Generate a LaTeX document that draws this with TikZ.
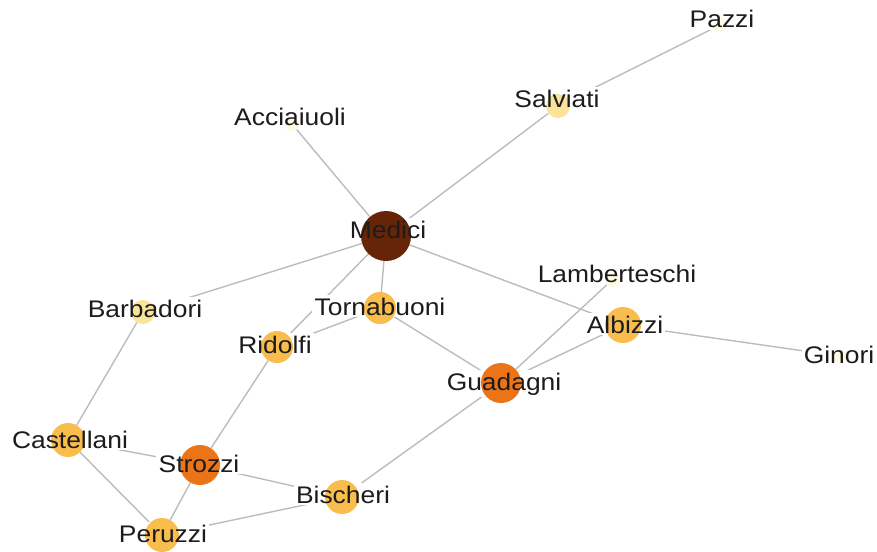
\documentclass[tikz,border=0pt]{standalone}
\usepackage{fontspec}
\setmainfont{Liberation Sans}[FakeStretch=1.1]

% drawing order: ties at the back, white label boxes, then families and names
\pgfdeclarelayer{ties}
\pgfdeclarelayer{halo}
\pgfsetlayers{ties,halo,main}

\definecolor{tiegray}{RGB}{188,188,188}
\definecolor{ink}{RGB}{28,28,28}
\definecolor{degA}{HTML}{FDFBE2}
\definecolor{degB}{HTML}{FBE49A}
\definecolor{degC}{HTML}{F8BD4C}
\definecolor{degD}{HTML}{EC7418}
\definecolor{degE}{HTML}{662506}

\tikzset{
  fam/.style 2 args={circle, inner sep=0pt, minimum size=#1pt, fill=#2, draw=none},
  famname/.style={anchor=base, inner sep=2pt, text=ink,
                  font=\fontsize{24}{24}\selectfont},
  tie/.style={draw=tiegray, line width=1.4pt},
}

\begin{document}
\begin{tikzpicture}[x=1pt, y=-1pt]
  \useasboundingbox (0,0) rectangle (877,551);

  % families, sized and shaded by centrality
  \node[fam={50}{degE}] (medici)       at (386,236) {};
  \node[fam={40}{degD}] (strozzi)      at (200,465) {};
  \node[fam={40}{degD}] (guadagni)     at (501,383) {};
  \node[fam={34}{degC}] (castellani)   at (68,440)  {};
  \node[fam={34}{degC}] (peruzzi)      at (162,535) {};
  \node[fam={34}{degC}] (bischeri)     at (342,497) {};
  \node[fam={36}{degC}] (albizzi)      at (623,325) {};
  \node[fam={32}{degC}] (tornabuoni)   at (380,308) {};
  \node[fam={32}{degC}] (ridolfi)      at (277,347) {};
  \node[fam={24}{degB}] (barbadori)    at (143,312) {};
  \node[fam={24}{degB}] (salviati)     at (558,106) {};
  \node[fam={14}{degA}] (acciaiuoli)   at (292,124) {};
  \node[fam={14}{degA}] (pazzi)        at (720,25)  {};
  \node[fam={14}{degA}] (lamberteschi) at (612,280) {};
  \node[fam={14}{degA}] (ginori)       at (839,356) {};

  % family names
  \node[famname] (medici-n)       at (388,238) {Medici};
  \node[famname] (strozzi-n)      at (199,472) {Strozzi};
  \node[famname] (guadagni-n)     at (504,390) {Guadagni};
  \node[famname] (castellani-n)   at (70,448)  {Castellani};
  \node[famname] (peruzzi-n)      at (163,542) {Peruzzi};
  \node[famname] (bischeri-n)     at (343,503) {Bischeri};
  \node[famname] (albizzi-n)      at (625,333) {Albizzi};
  \node[famname] (tornabuoni-n)   at (380,315) {Tornabuoni};
  \node[famname] (ridolfi-n)      at (275,353) {Ridolfi};
  \node[famname] (barbadori-n)    at (145,317) {Barbadori};
  \node[famname] (salviati-n)     at (557,107) {Salviati};
  \node[famname] (acciaiuoli-n)   at (290,125) {Acciaiuoli};
  \node[famname] (pazzi-n)        at (722,28)  {Pazzi};
  \node[famname] (lamberteschi-n) at (617,282) {Lamberteschi};
  \node[famname] (ginori-n)       at (839,363) {Ginori};

  % white boxes behind the names hide the ties that run under them
  \begin{pgfonlayer}{halo}
    \foreach \f in {medici,strozzi,guadagni,castellani,peruzzi,bischeri,
                    albizzi,tornabuoni,ridolfi,barbadori,salviati,
                    acciaiuoli,pazzi,lamberteschi,ginori}
      \fill[white] (\f-n.south west) rectangle (\f-n.north east);
  \end{pgfonlayer}

  % marriage ties
  \begin{pgfonlayer}{ties}
    \draw[tie] (acciaiuoli) -- (medici);
    \draw[tie] (albizzi) -- (ginori);
    \draw[tie] (albizzi) -- (guadagni);
    \draw[tie] (albizzi) -- (medici);
    \draw[tie] (barbadori) -- (castellani);
    \draw[tie] (barbadori) -- (medici);
    \draw[tie] (bischeri) -- (guadagni);
    \draw[tie] (bischeri) -- (peruzzi);
    \draw[tie] (bischeri) -- (strozzi);
    \draw[tie] (castellani) -- (peruzzi);
    \draw[tie] (castellani) -- (strozzi);
    \draw[tie] (guadagni) -- (lamberteschi);
    \draw[tie] (guadagni) -- (tornabuoni);
    \draw[tie] (medici) -- (ridolfi);
    \draw[tie] (medici) -- (salviati);
    \draw[tie] (medici) -- (tornabuoni);
    \draw[tie] (peruzzi) -- (strozzi);
    \draw[tie] (ridolfi) -- (strozzi);
    \draw[tie] (ridolfi) -- (tornabuoni);
    \draw[tie] (salviati) -- (pazzi);
  \end{pgfonlayer}
\end{tikzpicture}
\end{document}
